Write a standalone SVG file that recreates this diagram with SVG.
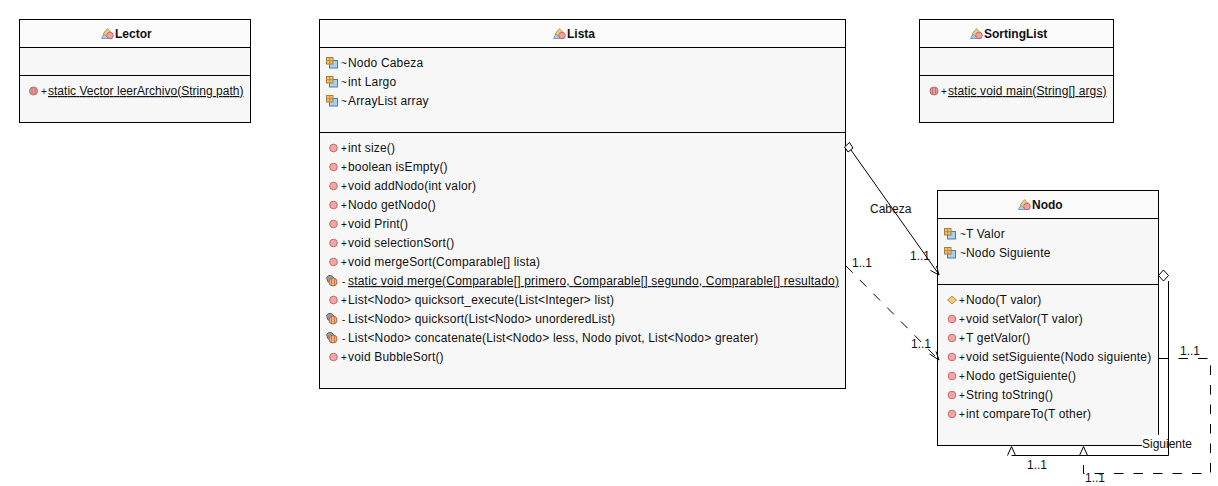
<svg xmlns="http://www.w3.org/2000/svg" width="1218" height="486" viewBox="0 0 1218 486">
<style>
text{font-family:"Liberation Sans",Arial,sans-serif;font-size:12px;fill:#111}
.m{letter-spacing:.18px}
.v{font-size:10px}
.t{font-weight:bold}
.u{text-decoration:underline}
.box{fill:#f7f7f7;stroke:#000;stroke-width:1}
.hd{fill:#fbfbfb;stroke:none}
.div{stroke:#000;stroke-width:1;fill:none}
.ln{stroke:#000;stroke-width:1;fill:none}
.dash{stroke:#000;stroke-width:1;fill:none;stroke-dasharray:9.5 10}
.hw{stroke:#000;stroke-width:1;fill:#fff}
</style>
<defs>
<symbol id="cls" overflow="visible"><path d="M0.5 10.5L4 3.5H9L11 10.5Z" fill="#a9cde8" stroke="#5f8fb5" stroke-width="0.8"/><path d="M2.5 5.5L6.5 0.5L10 4.5L6 9Z" fill="#f2c983" stroke="#b58a3c" stroke-width="0.8"/><circle cx="9" cy="7.5" r="3.3" fill="#f0a0a0" stroke="#b85c5c" stroke-width="0.8"/></symbol>
<symbol id="fld" overflow="visible"><rect x="3.5" y="3.5" width="8" height="7.5" fill="#a9d0ee" stroke="#4a7fa8"/><rect x="0.5" y="0.5" width="6.500" height="6.500" fill="#eec27a" stroke="#a87f35"/><path d="M3.750 .5V7M.5 3.750H7" stroke="#a87f35" stroke-width="0.8"/></symbol>
<symbol id="mth" overflow="visible"><circle cx="0" cy="0" r="3.800" fill="#f4a6a6" stroke="#c46a6a"/></symbol>
<symbol id="smt" overflow="visible"><circle cx="0" cy="0" r="4" fill="#e89a9a" stroke="#b96a6a"/><path d="M-1.500-3.500V3.500M1.500-3.500V3.500" stroke="#b96a6a" stroke-width="0.8"/></symbol>
<symbol id="psm" overflow="visible"><path d="M0.500 2.500L2.500 0.500H5.500L7.500 2.500L6 7H2Z" fill="#9a9a9a" stroke="#666"/><circle cx="7" cy="7" r="4" fill="#f4ac84" stroke="#b06a40"/><path d="M5.500 3.500V10.500M8.500 3.500V10.500" stroke="#b06a40" stroke-width="0.7"/></symbol>
<symbol id="ctr" overflow="visible"><path d="M0-4L4.500 0L0 4L-4.500 0Z" fill="#f2c983" stroke="#b58a3c"/></symbol>
</defs>
<rect width="1218" height="486" fill="#fff"/>

<g id="node-lector">
<rect class="box" x="19.500" y="19.500" width="231" height="103"/>
<rect class="hd" x="20" y="20" width="230" height="27"/>
<path class="div" d="M19.500 47.500H250.500M19.500 75.500H250.500"/>
<use href="#cls" x="101" y="28"/><text class="t" x="115" y="38">Lector</text>
<use href="#smt" x="33.500" y="91"/><text class="v" x="41" y="95">+</text><text class="u" x="48" y="95" textLength="195.500">static Vector leerArchivo(String path)</text>
</g>

<g id="node-lista">
<rect class="box" x="319.500" y="19.500" width="526" height="369"/>
<rect class="hd" x="320" y="20" width="525" height="27"/>
<path class="div" d="M319.500 47.500H845.500M319.500 132.500H845.500"/>
<use href="#cls" x="553" y="28"/><text class="t" x="567" y="38">Lista</text>
<g transform="translate(0,1)">
<use href="#fld" x="326" y="56"/><text class="v" x="341" y="66">~</text><text class="m" x="348" y="66">Nodo Cabeza</text>
<use href="#fld" x="326" y="75"/><text class="v" x="341" y="85">~</text><text class="m" x="348" y="85">int Largo</text>
<use href="#fld" x="326" y="94"/><text class="v" x="341" y="104">~</text><text class="m" x="348" y="104">ArrayList array</text>
<use href="#mth" x="333.500" y="147"/><text class="v" x="341" y="151">+</text><text class="m" x="348" y="151">int size()</text>
<use href="#mth" x="333.500" y="166"/><text class="v" x="341" y="170">+</text><text class="m" x="348" y="170">boolean isEmpty()</text>
<use href="#mth" x="333.500" y="185"/><text class="v" x="341" y="189">+</text><text class="m" x="348" y="189">void addNodo(int valor)</text>
<use href="#mth" x="333.500" y="204"/><text class="v" x="341" y="208">+</text><text class="m" x="348" y="208">Nodo getNodo()</text>
<use href="#mth" x="333.500" y="223"/><text class="v" x="341" y="227">+</text><text class="m" x="348" y="227">void Print()</text>
<use href="#mth" x="333.500" y="242"/><text class="v" x="341" y="246">+</text><text class="m" x="348" y="246">void selectionSort()</text>
<use href="#mth" x="333.500" y="261"/><text class="v" x="341" y="265">+</text><text class="m" x="348" y="265">void mergeSort(Comparable[] lista)</text>
<use href="#psm" x="326" y="274"/><text class="v" x="342" y="284">-</text><text class="u" x="348" y="284" textLength="491">static void merge(Comparable[] primero, Comparable[] segundo, Comparable[] resultado)</text>
<use href="#mth" x="333.500" y="299"/><text class="v" x="341" y="303">+</text><text class="m" x="348" y="303">List&lt;Nodo&gt; quicksort_execute(List&lt;Integer&gt; list)</text>
<use href="#psm" x="326" y="312"/><text class="v" x="342" y="322">-</text><text class="m" x="348" y="322">List&lt;Nodo&gt; quicksort(List&lt;Nodo&gt; unorderedList)</text>
<use href="#psm" x="326" y="331"/><text class="v" x="342" y="341">-</text><text class="m" x="348" y="341">List&lt;Nodo&gt; concatenate(List&lt;Nodo&gt; less, Nodo pivot, List&lt;Nodo&gt; greater)</text>
<use href="#mth" x="333.500" y="356"/><text class="v" x="341" y="360">+</text><text class="m" x="348" y="360">void BubbleSort()</text>
</g>
</g>

<g id="node-sortinglist">
<rect class="box" x="919.500" y="19.500" width="194" height="103"/>
<rect class="hd" x="920" y="20" width="193" height="27"/>
<path class="div" d="M919.500 47.500H1113.500M919.500 75.500H1113.500"/>
<use href="#cls" x="970" y="28"/><text class="t" x="984" y="38">SortingList</text>
<use href="#smt" x="934" y="91"/><text class="v" x="941" y="95">+</text><text class="u" x="948" y="95" textLength="158.500">static void main(String[] args)</text>
</g>

<g id="node-nodo">
<rect class="box" x="937.500" y="190.500" width="221" height="255"/>
<rect class="hd" x="938" y="191" width="220" height="27"/>
<path class="div" d="M937.500 218.500H1158.500M937.500 284.500H1158.500"/>
<use href="#cls" x="1018" y="199"/><text class="t" x="1032" y="209">Nodo</text>
<g transform="translate(0,1)">
<use href="#fld" x="944" y="227"/><text class="v" x="960" y="237">~</text><text class="m" x="966" y="237">T Valor</text>
<use href="#fld" x="944" y="246"/><text class="v" x="960" y="256">~</text><text class="m" x="966" y="256">Nodo Siguiente</text>
<use href="#ctr" x="952" y="299"/><text class="v" x="959" y="303">+</text><text class="m" x="966" y="303">Nodo(T valor)</text>
<use href="#mth" x="952" y="318"/><text class="v" x="959" y="322">+</text><text class="m" x="966" y="322">void setValor(T valor)</text>
<use href="#mth" x="952" y="337"/><text class="v" x="959" y="341">+</text><text class="m" x="966" y="341">T getValor()</text>
<use href="#mth" x="952" y="356"/><text class="v" x="959" y="360">+</text><text class="m" x="966" y="360">void setSiguiente(Nodo siguiente)</text>
<use href="#mth" x="952" y="375"/><text class="v" x="959" y="379">+</text><text class="m" x="966" y="379">Nodo getSiguiente()</text>
<use href="#mth" x="952" y="394"/><text class="v" x="959" y="398">+</text><text class="m" x="966" y="398">String toString()</text>
<use href="#mth" x="952" y="413"/><text class="v" x="959" y="417">+</text><text class="m" x="966" y="417">int compareTo(T other)</text>
</g>
</g>

<g id="connectors">
<path class="ln" d="M851 150L939 274.500"/>
<path class="hw" d="M844.500 147L849.500 142.500L853 148L848 152Z"/>
<path class="ln" d="M930.500 270.500L939 275L936.500 266"/>
<text x="870" y="213">Cabeza</text>
<text x="910" y="260">1..1</text>
<path class="dash" d="M846 266L939 360"/>
<path class="ln" d="M929.500 354L939 360L936 351.500"/>
<text x="852" y="267">1..1</text>
<text x="911" y="348">1..1</text>
<rect x="1142" y="435" width="53" height="15" fill="#fff"/>
<path class="ln" d="M1168.500 281V455.500H1011.500"/>
<path class="hw" d="M1163.500 270L1168.500 275.500L1163.500 281L1158.500 275.500Z"/>
<path class="ln" d="M1007.500 455.500L1011.500 446.500L1015.500 455.500M1079.500 455.500L1083.500 446.500L1087.500 455.500"/>
<text x="1142" y="448">Siguiente</text>
<text x="1027" y="469">1..1</text>
<path class="dash" d="M1159 358.500H1210.500V473.500H1083.500V457"/>
<text x="1180" y="355">1..1</text>
<text x="1085" y="482">1..1</text>
</g>
</svg>
